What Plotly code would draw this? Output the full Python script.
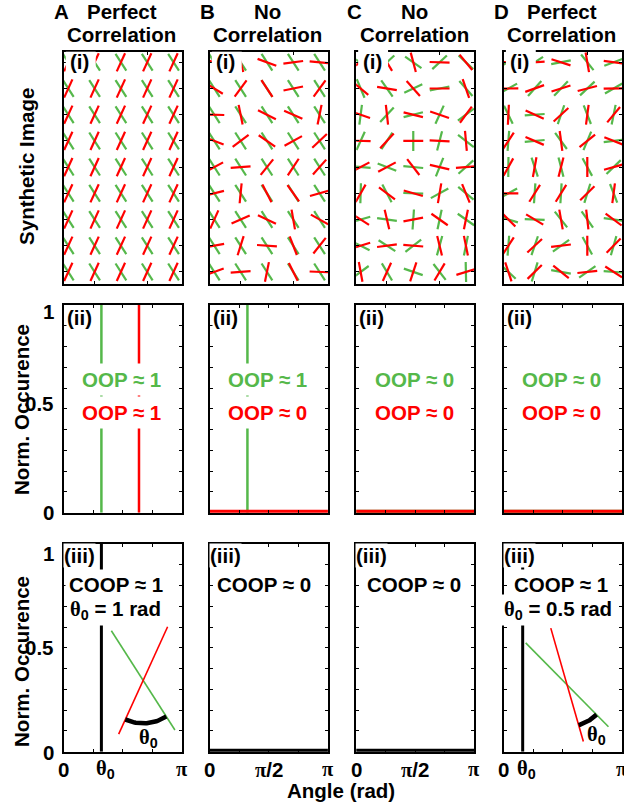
import numpy as np
import plotly.graph_objects as go

FIG_W, FIG_H = 624, 805
PI = np.pi

GREEN = "#55B84A"
RED = "#FF0000"
BLACK = "#000000"
FONT = "Liberation Sans, Arial, Helvetica, sans-serif"
SERIF = "Liberation Serif, Times New Roman, serif"
FS = 20.5

# ---------------------------------------------------------------- data
PANELS = ["A", "B", "C", "D"]
TITLE_TOP = ["Perfect", "No", "No", "Perfect"]
TITLE_BOTTOM = ["Correlation", "Correlation", "Correlation", "Correlation"]

# Synthetic images: 9 rows x 5 columns of segment pairs.
# Orientation in rad, measured from +x with the image y axis pointing down.
A_GREEN = [[1.0] * 5 for _ in range(9)]
A_RED = [[2.0] * 5 for _ in range(9)]

B_GREEN = [[1.0] * 5 for _ in range(9)]
B_RED = [
    [0.30, 1.30, 0.35, 3.01, 0.09],
    [0.55, 2.21, 0.98, 2.94, 2.21],
    [0.03, 1.37, 0.46, 0.41, 1.77],
    [0.36, 2.50, 0.60, 2.64, 2.39],
    [2.65, 3.06, 2.25, 2.15, 2.30],
    [2.89, 1.67, 1.10, 0.95, 2.87],
    [1.99, 2.72, 0.44, 1.40, 0.51],
    [2.96, 1.88, 0.07, 1.20, 2.24],
    [2.79, 3.06, 1.77, 1.11, 0.04],
]

C_GREEN = [
    [0.50, 2.40, 0.61, 2.39, 0.75],
    [1.17, 0.96, 2.70, 2.94, 0.85],
    [1.70, 2.32, 2.89, 2.00, 2.50],
    [2.00, 2.15, 1.57, 1.82, 0.66],
    [0.08, 0.37, 0.09, 1.95, 2.41],
    [1.60, 1.09, 0.03, 2.64, 0.69],
    [2.86, 0.14, 1.64, 1.78, 0.61],
    [0.46, 0.58, 2.48, 1.84, 1.77],
    [2.51, 1.03, 0.33, 0.91, 1.55],
]
C_RED = [
    [2.60, 1.03, 1.31, 0.03, 0.88],
    [0.70, 0.16, 0.84, 0.00, 1.24],
    [0.34, 1.46, 0.24, 0.33, 2.21],
    [0.03, 2.32, 0.00, 0.05, 1.48],
    [2.65, 2.65, 0.91, 0.23, 3.07],
    [2.09, 0.64, 0.28, 1.74, 1.18],
    [0.57, 1.34, 2.96, 0.61, 1.77],
    [2.84, 3.01, 0.08, 1.33, 1.37],
    [1.39, 2.00, 1.89, 2.11, 2.84],
]

THETA0_A = 1.0
THETA0_D = 0.5
D_GREEN = [
    [2.70, 2.57, 2.95, 0.90, 2.78],
    [2.63, 2.30, 2.33, 2.39, 2.62],
    [1.12, 3.07, 1.90, 1.20, 1.77],
    [1.65, 3.05, 0.94, 1.97, 3.02],
    [1.58, 1.25, 1.32, 1.07, 2.37],
    [2.64, 1.64, 1.63, 1.87, 1.20],
    [0.29, 0.04, 0.90, 0.96, 0.14],
    [1.65, 1.90, 2.52, 1.07, 1.85],
    [0.75, 1.87, 0.18, 2.53, 0.07],
]
D_RED = ((np.array(D_GREEN) + THETA0_D) % PI).tolist()

IMAGES = [(A_GREEN, A_RED), (B_GREEN, B_RED), (C_GREEN, C_RED), (D_GREEN, D_RED)]

# Orientation histograms: angle of the single peak (None = flat distribution)
OOP_GREEN_PEAK = [1.0, 1.0, None, None]
OOP_RED_PEAK = [2.0, None, None, None]
COOP_PEAK = [THETA0_A, None, None, THETA0_D]

OOP_GREEN_TEXT = ["OOP ≈ 1", "OOP ≈ 1", "OOP ≈ 0", "OOP ≈ 0"]
OOP_RED_TEXT = ["OOP ≈ 1", "OOP ≈ 0", "OOP ≈ 0", "OOP ≈ 0"]
COOP_TEXT = ["COOP ≈ 1", "COOP ≈ 0", "COOP ≈ 0", "COOP ≈ 1"]

Y_TICK_LABELS = ["1", "0.5", "0"]

# ---------------------------------------------------------------- geometry (px)
COL_LEFT = [64.0, 210.5, 357.3, 505.5]
COL_W = 118.5
ROWS = [(51.7, 284.3), (305.0, 512.7), (544.0, 751.7)]

GRID_X0, GRID_DX = 4.5, 26.4
GRID_Y0, GRID_DY = 10.6, 26.2
SEG_LEN = 20.0


def px_x(x):
    return x / FIG_W


def px_y(y):
    return 1 - y / FIG_H


def suffix(n):
    return "" if n == 1 else str(n)


def ann(x, y, text, color=BLACK, size=FS, **kw):
    d = dict(x=px_x(x), y=px_y(y), xref="paper", yref="paper", text=text,
             showarrow=False, xanchor="center", yanchor="middle",
             font=dict(family=FONT, size=size, color=color, weight="bold"))
    d.update(kw)
    return d


def serif(s):
    return f'<span style="font-family:{SERIF};font-size:{FS}px">{s}</span>'


THETA0 = serif("θ") + "<sub>0</sub>"
PI_TXT = serif("π")

fig = go.Figure()
layout = dict(width=FIG_W, height=FIG_H, margin=dict(l=0, r=0, t=0, b=0),
              paper_bgcolor="white", plot_bgcolor="white", showlegend=False)

axis_common = dict(showline=True, linewidth=2, linecolor=BLACK, mirror="allticks",
                   ticks="inside", ticklen=3, tickwidth=1, tickcolor=BLACK,
                   showgrid=False, zeroline=False, showticklabels=False,
                   fixedrange=True)

for r in range(3):
    for c in range(4):
        n = r * 4 + c + 1
        s = suffix(n)
        x0 = COL_LEFT[c]
        xd = [px_x(x0), min(1.0, px_x(x0 + COL_W))]
        yd = [px_y(ROWS[r][1]), px_y(ROWS[r][0])]
        if r == 0:
            xr = [0, COL_W]
            xt = [GRID_X0 + GRID_DX, GRID_X0 + 3 * GRID_DX]
            yr = [ROWS[0][1] - ROWS[0][0], 0]
            yt = [GRID_Y0 + GRID_DY * j for j in range(9)]
        else:
            xr = [0, PI]
            xt = [PI / 4, PI / 2, 3 * PI / 4]
            yr = [0, 1]
            yt = [round(v, 1) for v in np.arange(0, 1.01, 0.1)]
        layout["xaxis" + s] = dict(domain=xd, range=xr, tickvals=xt,
                                   anchor="y" + s, **axis_common)
        layout["yaxis" + s] = dict(domain=yd, range=yr, tickvals=yt,
                                   anchor="x" + s, **axis_common)

# ---------------------------------------------------------------- row (i): synthetic images
for c, (g_ang, r_ang) in enumerate(IMAGES):
    s = suffix(c + 1)
    for ang, col in ((g_ang, GREEN), (r_ang, RED)):
        xs, ys = [], []
        for j in range(9):
            for i in range(5):
                cx = GRID_X0 + GRID_DX * i
                cy = GRID_Y0 + GRID_DY * j
                th = ang[j][i]
                dx = 0.5 * SEG_LEN * np.cos(th)
                dy = 0.5 * SEG_LEN * np.sin(th)
                xs += [cx - dx, cx + dx, None]
                ys += [cy - dy, cy + dy, None]
        fig.add_trace(go.Scatter(x=xs, y=ys, mode="lines",
                                 line=dict(color=col, width=2.2),
                                 xaxis="x" + s, yaxis="y" + s, hoverinfo="skip"))


def hist_trace(peak, color, n, width_peak, width_flat):
    s = suffix(n)
    if peak is None:
        return go.Scatter(x=[0, PI], y=[0, 0], mode="lines",
                          line=dict(color=color, width=width_flat),
                          xaxis="x" + s, yaxis="y" + s, hoverinfo="skip")
    return go.Scatter(x=[peak, peak], y=[0, 1], mode="lines",
                      line=dict(color=color, width=width_peak),
                      xaxis="x" + s, yaxis="y" + s, hoverinfo="skip")


# ---------------------------------------------------------------- row (ii): OOP histograms
for c in range(4):
    n = 4 + c + 1
    fig.add_trace(hist_trace(OOP_GREEN_PEAK[c], GREEN, n, 2.5, 6))
    fig.add_trace(hist_trace(OOP_RED_PEAK[c], RED, n, 2.5, 6))

# ---------------------------------------------------------------- row (iii): COOP histograms
for c in range(4):
    n = 8 + c + 1
    fig.add_trace(hist_trace(COOP_PEAK[c], BLACK, n, 3, 6))

# ---------------------------------------------------------------- angle sketches in (iii)
H3 = ROWS[2][1] - ROWS[2][0]
SKETCHES = [
    # (column, host axis, crossing point px, green angle, relative angle, arc radius, label px)
    (0, 9, (79.6, 136.4), 1.0, THETA0_A, 43.0, (85.0, 194.0)),
    (3, 12, (63.4, 140.8), 0.79, THETA0_D, 42.0, (93.0, 191.0)),
]
annotations = []
for k, (c, host, (cx, cy), g_th, d_th, rad, (lx, ly)) in enumerate(SKETCHES):
    n = 13 + k
    s = str(n)
    layout["xaxis" + s] = dict(overlaying="x" + suffix(host), range=[0, COL_W],
                               visible=False, fixedrange=True, anchor="y" + s)
    layout["yaxis" + s] = dict(overlaying="y" + suffix(host), range=[H3, 0],
                               visible=False, fixedrange=True, anchor="x" + s)
    half = 59.0
    for th, col in ((g_th, GREEN), (g_th + d_th, RED)):
        fig.add_trace(go.Scatter(
            x=[cx - half * np.cos(th), cx + half * np.cos(th)],
            y=[cy - half * np.sin(th), cy + half * np.sin(th)],
            mode="lines", line=dict(color=col, width=1.6),
            xaxis="x" + s, yaxis="y" + s, hoverinfo="skip"))
    t = np.linspace(g_th, g_th + d_th, 40)
    fig.add_trace(go.Scatter(x=cx + rad * np.cos(t), y=cy + rad * np.sin(t),
                             mode="lines", line=dict(color=BLACK, width=4.5),
                             xaxis="x" + s, yaxis="y" + s, hoverinfo="skip"))
    annotations.append(dict(x=lx, y=ly, xref="x" + s, yref="y" + s, text=THETA0,
                            showarrow=False, xanchor="center", yanchor="middle",
                            font=dict(family=FONT, size=FS, color=BLACK, weight="bold")))

# ---------------------------------------------------------------- text
shapes = []
for c in range(4):
    L = COL_LEFT[c]
    mid = L + COL_W / 2
    # column headings
    annotations.append(ann(L - 2, 11, PANELS[c]))
    annotations.append(ann(mid - 1, 11, TITLE_TOP[c]))
    annotations.append(ann(mid - 1, 35, TITLE_BOTTOM[c]))

    # (i) label over a white patch
    cover = 3 if c >= 2 else 0
    shapes.append(dict(type="rect", xref="paper", yref="paper", layer="above",
                       x0=px_x(L + 2), x1=px_x(L + 32),
                       y0=px_y(ROWS[0][0] + 22), y1=px_y(ROWS[0][0] - cover),
                       fillcolor="white", line=dict(width=0)))
    annotations.append(ann(L + 16, ROWS[0][0] + 10, "(i)"))

    # (ii)
    annotations.append(ann(L + 15.5, 317, "(ii)", bgcolor="white", borderpad=0))
    annotations.append(ann(mid - 1, 379.5, OOP_GREEN_TEXT[c], color=GREEN,
                           bgcolor="white", borderpad=4))
    annotations.append(ann(mid - 1, 412.5, OOP_RED_TEXT[c], color=RED,
                           bgcolor="white", borderpad=4))

    # (iii)
    annotations.append(ann(L + 15.5, 555, "(iii)", bgcolor="white", borderpad=0))
    coop_x = [116, 265, 415, 563][c]
    annotations.append(ann(coop_x, 584.5, COOP_TEXT[c], bgcolor="white", borderpad=3))
    if COOP_PEAK[c] is not None:
        val = COOP_PEAK[c]
        annotations.append(ann(coop_x - (0 if c == 0 else 3), 610,
                               f"{THETA0} = {val:g} rad", bgcolor="white", borderpad=2))

    # x tick labels of the bottom row
    s = suffix(8 + c + 1)
    if COOP_PEAK[c] is not None:
        xlabels = [(0.0, "0", 0), (COOP_PEAK[c], THETA0, 4), (PI, PI_TXT, 0)]
    else:
        xlabels = [(0.0, "0", 0), (PI / 2, PI_TXT + "/2", 0), (PI, PI_TXT, 0)]
    for xv, txt, sh in xlabels:
        annotations.append(dict(x=xv, y=px_y(769), xref="x" + s, yref="paper",
                                text=txt, showarrow=False, xanchor="center",
                                yanchor="middle", xshift=sh,
                                font=dict(family=FONT, size=FS, color=BLACK,
                                          weight="bold")))

# y tick labels (first column only)
for ys in ([311, 403.5, 512], [553, 647, 752]):
    for txt, yy in zip(Y_TICK_LABELS, ys):
        annotations.append(ann(56.5, yy, txt, xanchor="right"))

# axis titles
annotations.append(ann(27, 166, "Synthetic Image", textangle=-90))
annotations.append(ann(21, 409, "Norm. Occurence", textangle=-90))
annotations.append(ann(21, 661, "Norm. Occurence", textangle=-90))
annotations.append(ann(342, 790, "Angle (rad)"))

layout["annotations"] = annotations
layout["shapes"] = shapes
fig.update_layout(**layout)
fig.write_html("out.html")
